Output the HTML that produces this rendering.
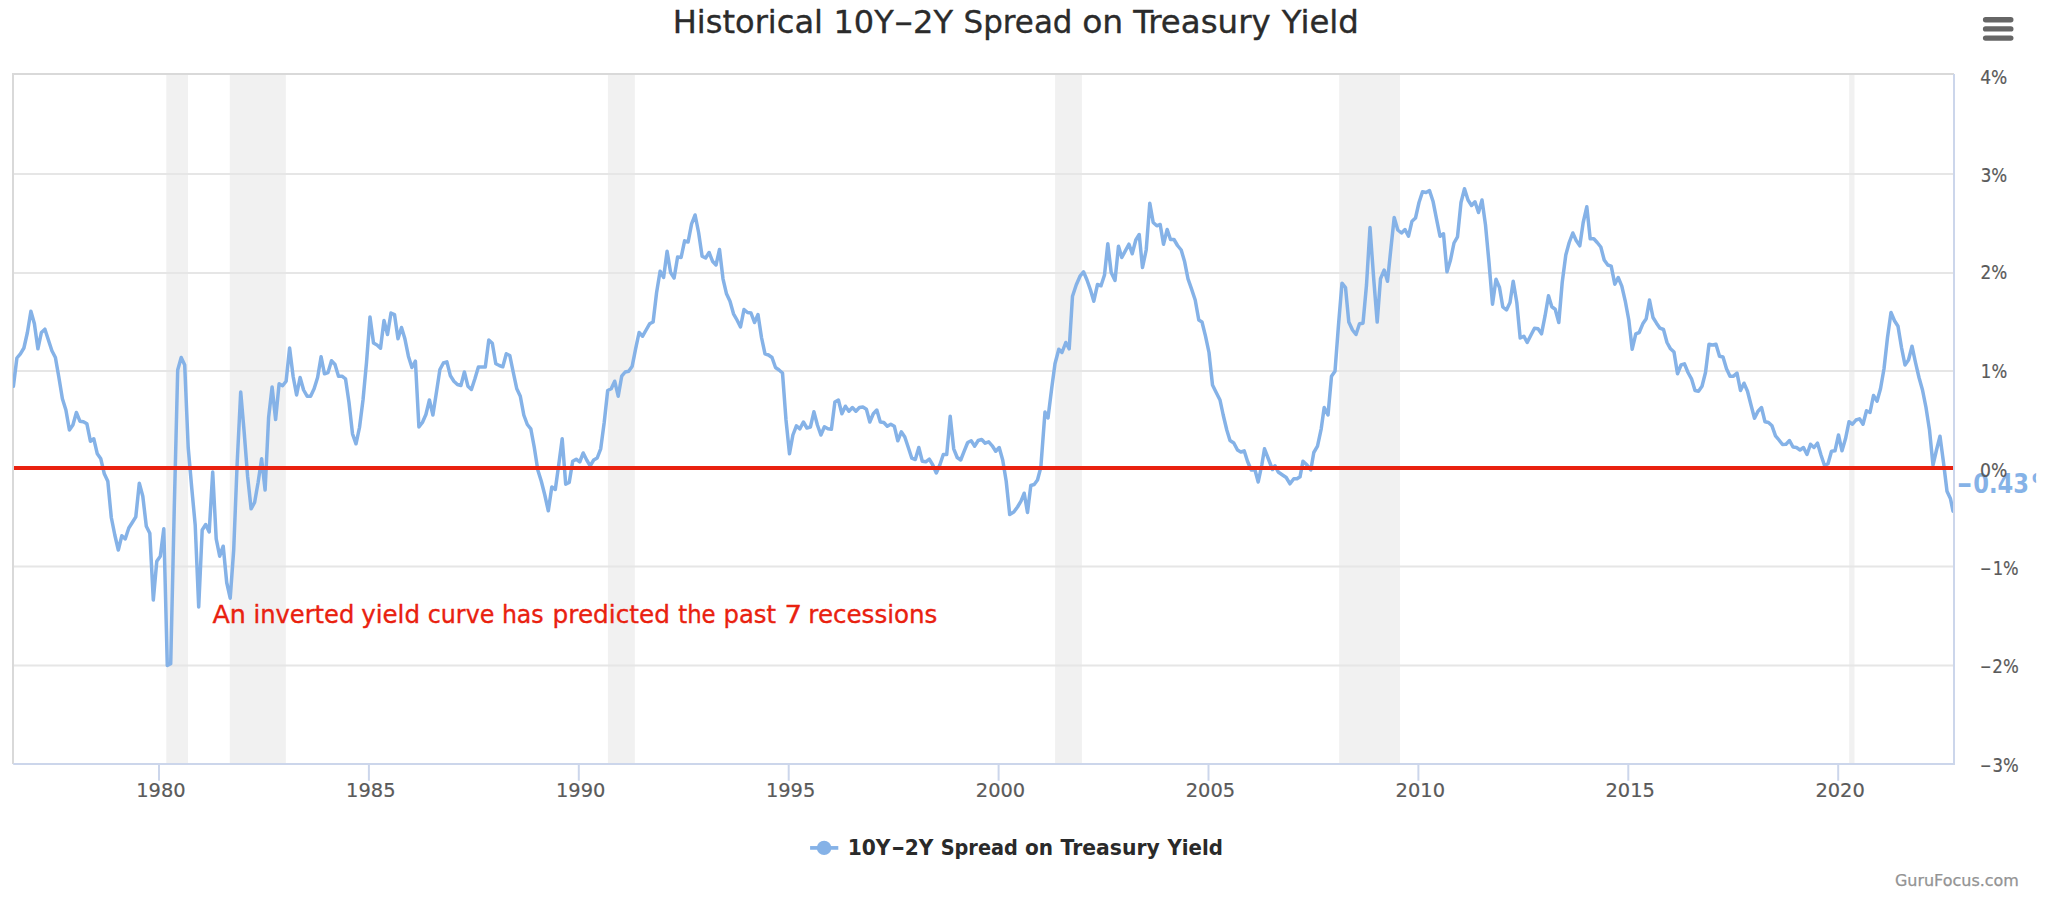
<!DOCTYPE html>
<html lang="en"><head><meta charset="utf-8"><title>Historical 10Y-2Y Spread on Treasury Yield</title>
<style>html,body{margin:0;padding:0;background:#fff}body{width:2048px;height:905px;overflow:hidden}svg{display:block}text{font-family:"DejaVu Sans","Liberation Sans",sans-serif;white-space:pre}</style>
</head><body>
<svg width="2048" height="905" viewBox="0 0 2048 905">
<rect x="0" y="0" width="2048" height="905" fill="#ffffff"/>
<g fill="#f1f1f1">
<rect x="166.30" y="75" width="21.70" height="688"/>
<rect x="229.80" y="75" width="56.00" height="688"/>
<rect x="607.90" y="75" width="26.90" height="688"/>
<rect x="1055.10" y="75" width="26.80" height="688"/>
<rect x="1339.20" y="75" width="60.80" height="688"/>
<rect x="1849.20" y="75" width="5.30" height="688"/>
</g>
<g stroke="#e6e6e6" stroke-width="2">
<line x1="14" x2="1953" y1="174.0" y2="174.0"/>
<line x1="14" x2="1953" y1="273.0" y2="273.0"/>
<line x1="14" x2="1953" y1="371.0" y2="371.0"/>
<line x1="14" x2="1953" y1="468.5" y2="468.5"/>
<line x1="14" x2="1953" y1="566.5" y2="566.5"/>
<line x1="14" x2="1953" y1="665.5" y2="665.5"/>
</g>
<path d="M13 764V74H1954" fill="none" stroke="#d9d9d9" stroke-width="2"/>
<path d="M13.2 764H1954V74" fill="none" stroke="#ccd6eb" stroke-width="2"/>
<g stroke="#ccd6eb" stroke-width="2">
<line x1="159.0" x2="159.0" y1="764" y2="780.8"/>
<line x1="368.9" x2="368.9" y1="764" y2="780.8"/>
<line x1="578.8" x2="578.8" y1="764" y2="780.8"/>
<line x1="788.7" x2="788.7" y1="764" y2="780.8"/>
<line x1="998.6" x2="998.6" y1="764" y2="780.8"/>
<line x1="1208.5" x2="1208.5" y1="764" y2="780.8"/>
<line x1="1418.4" x2="1418.4" y1="764" y2="780.8"/>
<line x1="1628.3" x2="1628.3" y1="764" y2="780.8"/>
<line x1="1838.2" x2="1838.2" y1="764" y2="780.8"/>
</g>
<clipPath id="plotclip"><rect x="13" y="74" width="1940" height="690"/></clipPath>
<g clip-path="url(#plotclip)"><path d="M13.4 386.2 L16.9 358.0 L20.4 353.8 L23.9 348.0 L27.4 332.5 L30.9 311.2 L34.4 323.8 L37.9 348.8 L41.4 332.5 L44.9 329.2 L48.4 340.0 L51.9 350.8 L55.4 357.5 L58.9 377.5 L62.4 398.8 L65.9 410.0 L69.4 430.0 L72.9 425.0 L76.4 412.5 L79.9 421.2 L83.4 421.8 L86.9 423.8 L90.4 441.2 L93.8 438.8 L97.3 453.8 L100.8 458.8 L104.3 473.8 L107.8 481.2 L111.3 517.5 L114.8 535.0 L118.3 550.0 L121.8 535.8 L125.3 538.8 L128.8 528.0 L132.3 522.5 L135.8 516.8 L139.3 483.2 L142.8 496.2 L146.3 526.2 L149.8 533.2 L153.3 600.0 L156.8 561.2 L160.3 556.2 L163.8 528.8 L167.3 665.5 L170.7 663.8 L174.2 511.0 L177.7 370.0 L181.2 357.5 L184.7 365.0 L188.2 447.5 L191.7 487.5 L195.2 525.0 L198.7 607.0 L202.2 530.0 L205.7 524.5 L209.2 532.0 L212.7 472.0 L216.2 538.8 L219.7 556.2 L223.2 546.2 L226.7 582.5 L230.2 598.2 L233.7 550.0 L237.2 462.5 L240.7 392.0 L244.2 432.5 L247.6 476.2 L251.1 508.8 L254.6 502.5 L258.1 482.5 L261.6 458.8 L265.1 490.0 L268.6 417.5 L272.1 387.0 L275.6 419.5 L279.1 383.8 L282.6 385.8 L286.1 381.2 L289.6 348.0 L293.1 376.2 L296.6 395.0 L300.1 377.5 L303.6 390.0 L307.1 396.2 L310.6 396.2 L314.1 388.8 L317.6 377.5 L321.1 356.8 L324.5 373.8 L328.0 372.5 L331.5 360.8 L335.0 364.5 L338.5 376.2 L342.0 376.2 L345.5 378.8 L349.0 402.5 L352.5 433.8 L356.0 443.8 L359.5 427.5 L363.0 400.0 L366.5 362.5 L370.0 317.0 L373.5 343.0 L377.0 345.0 L380.5 348.2 L384.0 320.5 L387.5 334.5 L391.0 313.0 L394.5 314.5 L398.0 338.8 L401.5 327.5 L404.9 338.8 L408.4 356.2 L411.9 367.5 L415.4 361.2 L418.9 427.0 L422.4 422.5 L425.9 414.5 L429.4 400.0 L432.9 415.0 L436.4 392.5 L439.9 369.5 L443.4 363.0 L446.9 361.8 L450.4 375.8 L453.9 381.2 L457.4 384.5 L460.9 385.5 L464.4 372.0 L467.9 386.2 L471.4 389.5 L474.9 378.8 L478.4 367.0 L481.8 367.0 L485.3 367.0 L488.8 340.0 L492.3 343.2 L495.8 363.8 L499.3 365.5 L502.8 366.8 L506.3 353.8 L509.8 355.5 L513.3 372.5 L516.8 388.8 L520.3 396.2 L523.8 415.0 L527.3 424.5 L530.8 428.8 L534.3 447.5 L537.8 470.0 L541.3 481.2 L544.8 495.0 L548.3 510.8 L551.8 487.0 L555.3 489.5 L558.7 465.0 L562.2 438.8 L565.7 484.2 L569.2 482.5 L572.7 461.2 L576.2 459.2 L579.7 462.0 L583.2 453.0 L586.7 460.0 L590.2 465.8 L593.7 460.0 L597.2 458.0 L600.7 448.8 L604.2 422.5 L607.7 390.5 L611.2 388.8 L614.7 381.2 L618.2 396.2 L621.7 376.2 L625.2 372.0 L628.7 371.2 L632.2 366.2 L635.6 348.8 L639.1 332.5 L642.6 336.2 L646.1 330.0 L649.6 323.8 L653.1 322.0 L656.6 292.5 L660.1 271.2 L663.6 277.5 L667.1 251.2 L670.6 272.5 L674.1 278.0 L677.6 257.0 L681.1 257.5 L684.6 240.8 L688.1 242.0 L691.6 223.8 L695.1 215.0 L698.6 232.5 L702.1 256.2 L705.6 258.0 L709.1 252.5 L712.5 261.2 L716.0 265.0 L719.5 249.5 L723.0 278.8 L726.5 293.8 L730.0 301.2 L733.5 313.8 L737.0 320.0 L740.5 327.0 L744.0 309.5 L747.5 312.5 L751.0 313.0 L754.5 322.5 L758.0 314.5 L761.5 337.5 L765.0 353.8 L768.5 355.0 L772.0 357.5 L775.5 367.5 L779.0 370.0 L782.5 373.0 L786.0 420.0 L789.5 453.8 L792.9 435.0 L796.4 425.8 L799.9 428.8 L803.4 422.0 L806.9 428.0 L810.4 427.0 L813.9 411.8 L817.4 425.0 L820.9 435.0 L824.4 426.8 L827.9 428.8 L831.4 429.2 L834.9 402.0 L838.4 400.0 L841.9 413.8 L845.4 406.2 L848.9 411.2 L852.4 407.5 L855.9 411.2 L859.4 407.5 L862.9 407.0 L866.4 409.2 L869.8 422.0 L873.3 413.8 L876.8 410.0 L880.3 422.0 L883.8 422.5 L887.3 426.2 L890.8 424.2 L894.3 426.2 L897.8 440.8 L901.3 431.8 L904.8 437.0 L908.3 447.5 L911.8 458.2 L915.3 459.5 L918.8 447.5 L922.3 461.2 L925.8 461.8 L929.3 459.2 L932.8 465.0 L936.3 473.0 L939.8 465.0 L943.3 454.5 L946.7 454.5 L950.2 416.2 L953.7 448.8 L957.2 457.5 L960.7 460.0 L964.2 451.2 L967.7 442.5 L971.2 440.8 L974.7 446.2 L978.2 440.5 L981.7 439.5 L985.2 443.2 L988.7 441.8 L992.2 445.8 L995.7 451.2 L999.2 447.5 L1002.7 460.0 L1006.2 481.2 L1009.7 514.5 L1013.8 512.0 L1017.5 507.0 L1021.0 501.2 L1024.2 493.2 L1027.5 512.5 L1030.8 485.5 L1034.2 484.5 L1037.5 480.0 L1040.8 467.5 L1045.0 412.0 L1048.0 418.0 L1051.8 387.5 L1055.0 363.8 L1058.8 349.2 L1062.0 352.5 L1065.8 342.5 L1069.2 348.8 L1072.5 296.2 L1076.2 285.0 L1080.0 276.2 L1083.5 271.8 L1087.0 280.0 L1090.5 290.0 L1093.8 301.2 L1097.5 284.5 L1101.0 285.8 L1104.5 275.0 L1107.8 243.8 L1111.2 272.5 L1115.0 280.5 L1118.5 246.2 L1121.8 257.5 L1125.2 251.2 L1129.0 244.2 L1132.2 253.8 L1135.8 240.0 L1139.2 234.5 L1142.5 267.5 L1146.2 250.0 L1149.8 203.2 L1153.2 222.5 L1156.8 225.8 L1160.2 224.5 L1163.5 244.2 L1167.2 229.5 L1170.5 239.5 L1174.0 239.5 L1177.5 245.5 L1181.2 250.0 L1184.5 261.2 L1188.0 278.8 L1191.5 288.8 L1195.2 300.0 L1198.8 320.0 L1202.0 322.0 L1205.5 336.2 L1209.0 352.5 L1212.5 385.0 L1216.2 392.5 L1220.0 400.0 L1223.2 415.0 L1226.8 430.0 L1230.0 440.5 L1233.8 443.0 L1237.5 450.0 L1240.8 452.0 L1244.2 450.8 L1247.5 461.2 L1251.2 470.0 L1255.0 470.0 L1258.2 482.0 L1261.8 465.0 L1264.5 448.8 L1268.8 460.0 L1272.5 469.5 L1275.0 465.8 L1278.2 472.0 L1282.5 475.0 L1286.2 477.5 L1290.0 483.8 L1293.8 478.8 L1297.0 478.8 L1300.0 476.8 L1303.0 461.2 L1307.0 465.0 L1310.8 470.0 L1313.8 452.5 L1317.5 446.2 L1321.2 428.8 L1324.2 407.5 L1328.0 415.0 L1331.5 376.2 L1335.0 371.2 L1338.5 325.0 L1342.0 283.2 L1345.5 287.5 L1348.8 322.0 L1352.5 330.0 L1356.0 334.5 L1359.5 323.8 L1363.0 323.2 L1366.5 285.0 L1370.0 227.5 L1373.8 280.0 L1377.2 322.0 L1380.5 278.8 L1384.2 270.0 L1387.5 281.2 L1391.0 247.5 L1394.2 217.5 L1397.8 230.0 L1401.5 233.0 L1405.0 229.5 L1408.5 236.2 L1412.0 221.2 L1415.5 218.0 L1419.0 202.5 L1422.5 191.8 L1426.0 192.5 L1429.5 190.5 L1433.0 201.2 L1436.5 218.8 L1440.0 236.2 L1443.5 233.8 L1447.0 271.8 L1450.5 260.0 L1454.0 243.0 L1457.5 236.8 L1461.0 202.5 L1464.5 188.8 L1468.0 200.0 L1471.5 205.5 L1475.0 201.8 L1478.5 212.5 L1482.0 200.0 L1485.5 225.0 L1489.0 262.5 L1492.5 304.2 L1496.0 279.2 L1499.5 287.5 L1502.8 307.0 L1506.5 310.0 L1510.0 302.5 L1513.2 281.2 L1516.8 302.5 L1520.2 338.0 L1523.8 336.2 L1527.2 342.5 L1531.0 335.0 L1534.5 328.2 L1538.0 328.8 L1541.5 333.8 L1545.0 316.2 L1548.5 295.8 L1551.8 306.8 L1555.2 309.2 L1558.8 322.5 L1562.2 282.5 L1565.8 255.0 L1569.2 242.5 L1572.8 233.0 L1576.2 240.5 L1579.8 245.8 L1583.2 222.5 L1586.8 206.8 L1590.2 238.8 L1593.8 238.8 L1597.2 242.5 L1600.8 247.0 L1604.2 260.0 L1607.8 265.0 L1611.2 266.2 L1614.8 284.2 L1618.2 277.5 L1621.8 286.2 L1625.2 300.8 L1628.8 320.0 L1632.2 349.2 L1635.8 333.8 L1639.2 332.5 L1642.8 323.8 L1646.2 318.8 L1649.5 300.0 L1653.0 317.5 L1656.5 323.2 L1660.0 328.2 L1663.5 329.5 L1667.0 342.5 L1670.5 348.8 L1674.0 352.0 L1677.5 373.8 L1681.0 365.0 L1684.5 363.8 L1688.0 372.5 L1691.5 378.8 L1695.0 390.5 L1698.5 391.2 L1702.0 386.2 L1705.5 372.5 L1709.0 344.2 L1712.5 345.0 L1716.0 344.2 L1719.5 356.2 L1723.0 357.0 L1726.5 368.8 L1730.0 376.2 L1733.5 376.2 L1737.0 373.2 L1740.5 390.5 L1744.0 383.2 L1747.5 391.2 L1751.0 405.0 L1754.5 418.2 L1758.0 411.2 L1761.5 407.5 L1765.0 421.8 L1768.5 422.5 L1772.0 425.8 L1775.5 435.8 L1779.0 440.0 L1782.5 444.5 L1786.0 444.2 L1789.5 440.5 L1793.0 447.0 L1796.5 447.5 L1800.0 450.0 L1803.5 447.5 L1807.0 454.5 L1810.5 444.2 L1814.0 447.5 L1817.5 443.2 L1821.0 455.0 L1824.5 465.5 L1828.0 463.8 L1831.5 451.2 L1835.0 450.8 L1838.5 435.0 L1842.0 450.8 L1845.5 438.8 L1849.0 421.8 L1852.5 424.2 L1856.0 420.0 L1859.5 418.8 L1863.0 424.2 L1866.5 410.8 L1870.0 412.5 L1873.5 395.5 L1877.0 401.2 L1880.5 388.8 L1884.0 368.8 L1887.5 337.5 L1891.0 312.5 L1894.5 320.8 L1898.0 326.2 L1901.5 347.5 L1905.0 365.0 L1908.5 360.0 L1912.0 346.2 L1915.5 362.5 L1919.0 377.5 L1922.5 390.0 L1926.0 407.5 L1929.5 430.0 L1933.0 465.0 L1936.5 450.0 L1940.0 436.2 L1943.5 462.5 L1947.0 491.2 L1950.5 498.8 L1953.0 511.2" fill="none" stroke="#85b2e7" stroke-width="3.5" stroke-linejoin="round" stroke-linecap="round"/></g>
<rect x="14" y="466" width="1939" height="4" fill="#e9210f"/>
<text y="623.40" font-size="24" fill="#e9210f" stroke="#e9210f" stroke-width="0.35" stroke-linejoin="round"><tspan x="212.47" textLength="33.45" lengthAdjust="spacingAndGlyphs">An</tspan> <tspan x="253.42" textLength="100.95" lengthAdjust="spacingAndGlyphs">inverted</tspan> <tspan x="361.19" textLength="58.82" lengthAdjust="spacingAndGlyphs">yield</tspan> <tspan x="427.69" textLength="66.71" lengthAdjust="spacingAndGlyphs">curve</tspan> <tspan x="501.88" textLength="41.71" lengthAdjust="spacingAndGlyphs">has</tspan> <tspan x="552.57" textLength="117.35" lengthAdjust="spacingAndGlyphs">predicted</tspan> <tspan x="678.23" textLength="37.42" lengthAdjust="spacingAndGlyphs">the</tspan> <tspan x="723.51" textLength="52.52" lengthAdjust="spacingAndGlyphs">past</tspan> <tspan x="784.59" textLength="17.55" lengthAdjust="spacingAndGlyphs">7</tspan> <tspan x="808.39" textLength="128.94" lengthAdjust="spacingAndGlyphs">recessions</tspan></text>
<clipPath id="lblclip"><rect x="1950" y="440" width="86.2" height="80"/></clipPath>
<g clip-path="url(#lblclip)"><text y="493.30" font-size="26" font-weight="bold" fill="#85b2e7"><tspan x="1956.71" textLength="15.68" lengthAdjust="spacingAndGlyphs">-</tspan><tspan x="1973.18" textLength="55.73" lengthAdjust="spacingAndGlyphs">0.43</tspan><tspan x="2031.74" textLength="25.45" lengthAdjust="spacingAndGlyphs">%</tspan></text></g>
<text y="83.70" font-size="19.6" fill="#5a5a5a" stroke="#5a5a5a" stroke-width="0.2" stroke-linejoin="round"><tspan x="1980.13" textLength="27.11" lengthAdjust="spacingAndGlyphs">4%</tspan></text>
<text y="181.70" font-size="19.6" fill="#5a5a5a" stroke="#5a5a5a" stroke-width="0.2" stroke-linejoin="round"><tspan x="1980.64" textLength="26.58" lengthAdjust="spacingAndGlyphs">3%</tspan></text>
<text y="279.30" font-size="19.6" fill="#5a5a5a" stroke="#5a5a5a" stroke-width="0.2" stroke-linejoin="round"><tspan x="1980.52" textLength="26.71" lengthAdjust="spacingAndGlyphs">2%</tspan></text>
<text y="378.40" font-size="19.6" fill="#5a5a5a" stroke="#5a5a5a" stroke-width="0.2" stroke-linejoin="round"><tspan x="1980.86" textLength="26.36" lengthAdjust="spacingAndGlyphs">1%</tspan></text>
<text y="476.90" font-size="19.6" fill="#5a5a5a" stroke="#5a5a5a" stroke-width="0.2" stroke-linejoin="round"><tspan x="1979.98" textLength="27.27" lengthAdjust="spacingAndGlyphs">0%</tspan></text>
<text y="574.60" font-size="19.6" fill="#5a5a5a" stroke="#5a5a5a" stroke-width="0.2" stroke-linejoin="round"><tspan x="1979.97" textLength="11.49" lengthAdjust="spacingAndGlyphs">-</tspan><tspan x="1992.68" textLength="26.03" lengthAdjust="spacingAndGlyphs">1%</tspan></text>
<text y="672.60" font-size="19.6" fill="#5a5a5a" stroke="#5a5a5a" stroke-width="0.2" stroke-linejoin="round"><tspan x="1979.97" textLength="11.49" lengthAdjust="spacingAndGlyphs">-</tspan><tspan x="1992.34" textLength="26.38" lengthAdjust="spacingAndGlyphs">2%</tspan></text>
<text y="771.80" font-size="19.6" fill="#5a5a5a" stroke="#5a5a5a" stroke-width="0.2" stroke-linejoin="round"><tspan x="1979.97" textLength="11.49" lengthAdjust="spacingAndGlyphs">-</tspan><tspan x="1992.51" textLength="26.20" lengthAdjust="spacingAndGlyphs">3%</tspan></text>
<g font-size="19.8" fill="#5a5a5a" stroke="#5a5a5a" stroke-width="0.2">
<text x="136.2" y="797.0" textLength="49.4" lengthAdjust="spacingAndGlyphs">1980</text>
<text x="346.1" y="797.0" textLength="49.4" lengthAdjust="spacingAndGlyphs">1985</text>
<text x="556.0" y="797.0" textLength="49.4" lengthAdjust="spacingAndGlyphs">1990</text>
<text x="765.9" y="797.0" textLength="49.4" lengthAdjust="spacingAndGlyphs">1995</text>
<text x="975.8" y="797.0" textLength="49.4" lengthAdjust="spacingAndGlyphs">2000</text>
<text x="1185.7" y="797.0" textLength="49.4" lengthAdjust="spacingAndGlyphs">2005</text>
<text x="1395.6" y="797.0" textLength="49.4" lengthAdjust="spacingAndGlyphs">2010</text>
<text x="1605.5" y="797.0" textLength="49.4" lengthAdjust="spacingAndGlyphs">2015</text>
<text x="1815.4" y="797.0" textLength="49.4" lengthAdjust="spacingAndGlyphs">2020</text>
</g>
<text y="33.00" font-size="32" fill="#2b2b2b" stroke="#2b2b2b" stroke-width="0.35" stroke-linejoin="round"><tspan x="672.75" textLength="150.22" lengthAdjust="spacingAndGlyphs">Historical</tspan> <tspan x="833.44" textLength="60.22" lengthAdjust="spacingAndGlyphs">10Y</tspan><tspan x="893.73" textLength="19.78" lengthAdjust="spacingAndGlyphs">-</tspan><tspan x="913.05" textLength="40.01" lengthAdjust="spacingAndGlyphs">2Y</tspan> <tspan x="963.59" textLength="108.89" lengthAdjust="spacingAndGlyphs">Spread</tspan> <tspan x="1082.19" textLength="41.08" lengthAdjust="spacingAndGlyphs">on</tspan> <tspan x="1133.16" textLength="137.51" lengthAdjust="spacingAndGlyphs">Treasury</tspan> <tspan x="1281.76" textLength="77.15" lengthAdjust="spacingAndGlyphs">Yield</tspan></text>
<g stroke="#666666" stroke-width="5.4" stroke-linecap="round"><line x1="1985.6" x2="2010.8" y1="19.8" y2="19.8"/><line x1="1985.6" x2="2010.8" y1="28.9" y2="28.9"/><line x1="1985.6" x2="2010.8" y1="38.1" y2="38.1"/></g>
<line x1="810.1" x2="838.3" y1="847.9" y2="847.9" stroke="#85b2e7" stroke-width="3.7"/>
<circle cx="824.1" cy="847.9" r="7.2" fill="#85b2e7"/>
<text y="855.00" font-size="22" font-weight="bold" fill="#2a2a2a"><tspan x="847.67" textLength="42.86" lengthAdjust="spacingAndGlyphs">10Y</tspan><tspan x="891.23" textLength="13.83" lengthAdjust="spacingAndGlyphs">-</tspan><tspan x="904.78" textLength="28.70" lengthAdjust="spacingAndGlyphs">2Y</tspan> <tspan x="940.65" textLength="77.21" lengthAdjust="spacingAndGlyphs">Spread</tspan> <tspan x="1025.00" textLength="28.04" lengthAdjust="spacingAndGlyphs">on</tspan> <tspan x="1060.50" textLength="99.24" lengthAdjust="spacingAndGlyphs">Treasury</tspan> <tspan x="1167.50" textLength="55.50" lengthAdjust="spacingAndGlyphs">Yield</tspan></text>
<text y="885.80" font-size="16.4" fill="#939393" stroke="#939393" stroke-width="0.25" stroke-linejoin="round"><tspan x="1894.92" textLength="124.02" lengthAdjust="spacingAndGlyphs">GuruFocus.com</tspan></text>
</svg>
</body></html>
